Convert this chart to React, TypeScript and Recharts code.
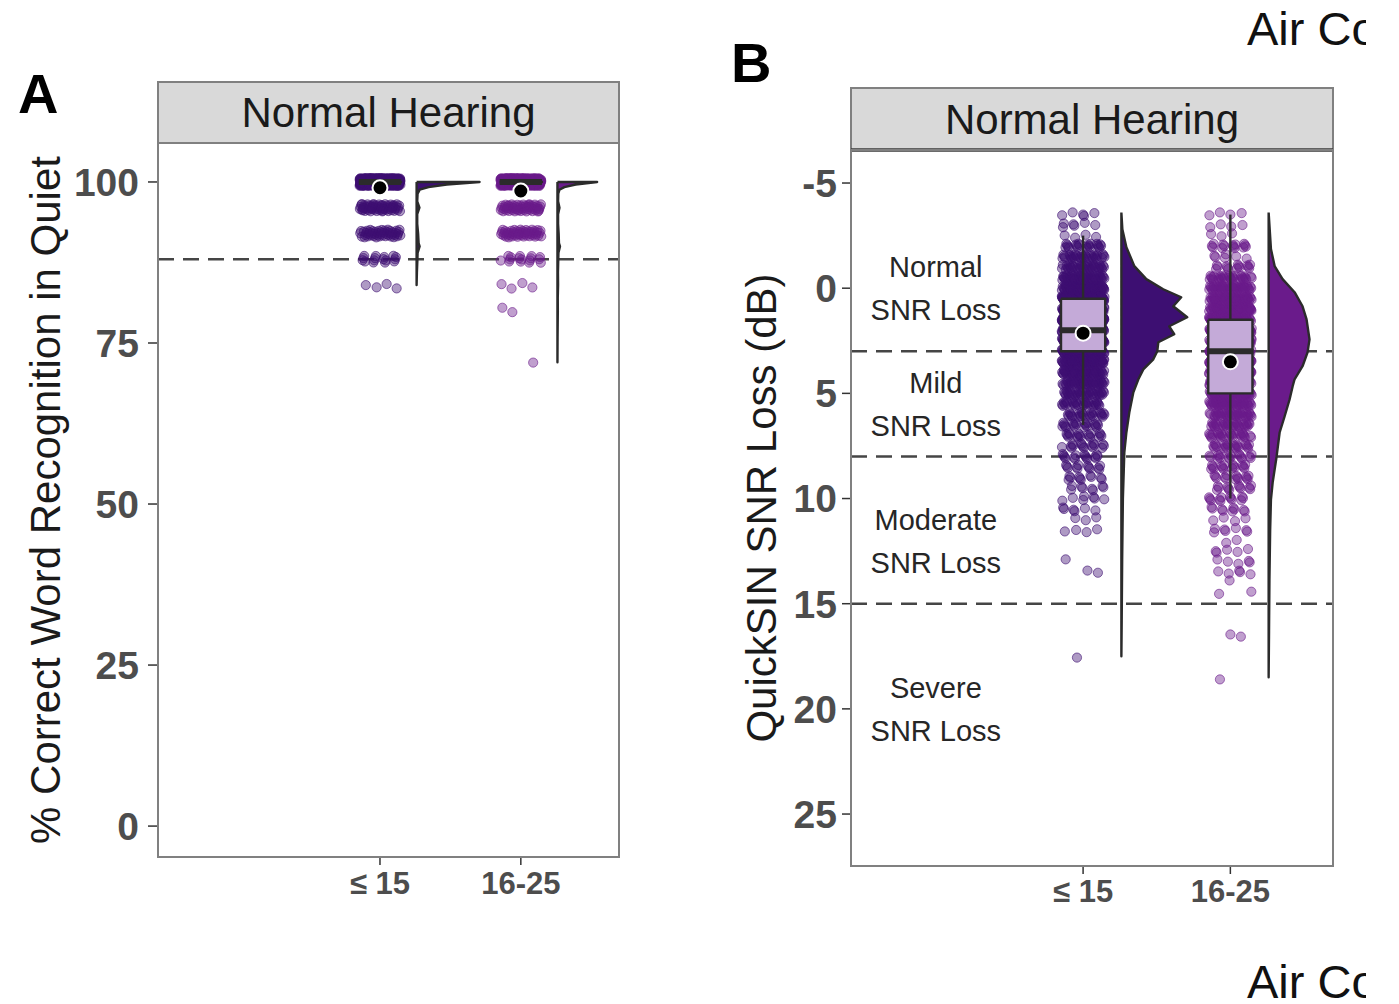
import React from "react";
import { ComposedChart, Scatter, XAxis, YAxis, ReferenceLine } from "recharts";

const FONT = '"Liberation Sans", Arial, Helvetica, sans-serif';
const INK = "#1a1a1a";
const TICK_GRAY = "#4d4d4d";
const DARK = "#2b2b2b";
const FRAME = "#808080";
const STRIP = "#d9d9d9";
const BOX_FILL = "#c4aad8";

// x = 1 and x = 2 carry the two age groups
const ageGroups = ["≤ 15", "16-25"];
const groupColors = ["#3d0f72", "#6a1b8b"];

// ---------- A: word recognition in quiet (%), scored in 4% steps ----------
const wrsLevels = [100, 96, 92, 88, 84, 80, 76, 72];
const wrsCounts15 = [420, 60, 48, 16, 4, 0, 0, 0];
const wrsCounts25 = [345, 55, 50, 16, 4, 2, 0, 1];
const wrsQ1 = [100, 100];
const wrsMedian = [100, 100];
const wrsQ3 = [100, 100];
const wrsWhiskerLo = [100, 100];
const wrsWhiskerHi = [100, 100];
const wrsMean = [99.1, 98.6];
const wrsCutoffs = [88];
const wrsTicks = [0, 25, 50, 75, 100];

// half violins: score -> relative density (100 = widest of the panel)
const wrsDensAt15 = [100, 99.6, 99.2, 98.8, 98.2, 97, 96, 95, 93.5, 92, 90.5, 90, 89, 88, 86, 84];
const wrsDens15 = [100, 48, 19, 5, 1.6, 1, 4.5, 1, 1, 2.4, 3.2, 4.8, 1.6, 1.3, 0.5, 0];
const wrsDensAt25 = [100, 99.6, 99.2, 98.8, 98.2, 97, 96, 95, 93.5, 92, 90.5, 90, 89, 88, 86, 84, 82, 80, 76, 72];
const wrsDens25 = [63, 29, 11, 3.2, 1.3, 1, 3.2, 1, 1, 1.9, 2.4, 4, 1.6, 1.3, 0.8, 1, 0.5, 0.6, 0.2, 0];

// ---------- B: QuickSIN SNR loss (dB), 0.5 dB steps ----------
const snrLevels = [-3.5, -3, -2.5, -2, -1.5, -1, -0.5, 0, 0.5, 1, 1.5, 2, 2.5, 3, 3.5, 4, 4.5, 5, 5.5, 6, 6.5, 7, 7.5, 8, 8.5, 9, 9.5, 10, 10.5, 11, 11.5, 12, 12.5, 13, 13.5, 14, 14.5, 15, 15.5, 16, 16.5, 17, 17.5, 18, 18.5];
const snrCounts15 = [5, 6, 4, 22, 34, 40, 55, 90, 160, 140, 170, 130, 115, 90, 75, 58, 48, 38, 30, 25, 20, 18, 16, 15, 12, 10, 8, 7, 6, 3, 4, 0, 0, 1, 2, 0, 0, 0, 0, 0, 0, 0, 1, 0, 0];
const snrCounts25 = [4, 4, 3, 14, 6, 14, 32, 48, 62, 72, 80, 86, 90, 90, 86, 80, 68, 58, 48, 40, 32, 27, 22, 18, 16, 14, 12, 12, 9, 4, 7, 2, 5, 5, 5, 1, 2, 0, 0, 0, 2, 0, 0, 0, 1];
const snrQ1 = [0.5, 1.5];
const snrMedian = [2, 3];
const snrQ3 = [3, 5];
const snrWhiskerLo = [-2.5, -3.5];
const snrWhiskerHi = [6.5, 10];
const snrMean = [2.14, 3.5];
const snrCutoffs = [3, 8, 15];
const snrTicks = [-5, 0, 5, 10, 15, 20, 25];

const snrDensAt15 = [-3.6, -2.8, -1.95, -1.05, -0.43, 0.05, 0.43, 0.86, 1.38, 1.81, 2.19, 2.57, 3.0, 3.38, 3.86, 4.33, 4.95, 5.9, 6.86, 7.8, 10, 12.9, 15.8, 17.5];
const snrDens15 = [0, 1.5, 7.6, 19.7, 37.9, 63.6, 90.9, 78.8, 100, 72.7, 80.3, 56.1, 54.5, 48.5, 33.3, 25.8, 18.2, 12.1, 7.6, 4.5, 2.3, 1.2, 0.5, 0];
const snrDensAt25 = [-3.6, -1.86, -1.05, -0.43, 0.19, 0.86, 1.48, 2.43, 3.05, 3.71, 4.33, 4.67, 5.29, 6.1, 6.86, 8.0, 9.24, 10.05, 11.5, 13.9, 16.3, 18.5];
const snrDens25 = [0, 3.5, 9.1, 21.2, 39.4, 51.5, 57.6, 62.1, 59.1, 51.5, 39.4, 36.4, 31.8, 24.2, 16.7, 12.1, 6.1, 3.5, 2.3, 1.2, 0.6, 0];

const snrRegions = ["Normal", "Mild", "Moderate", "Severe"];
const snrRegionAt = [0, 5.5, 12, 20];

// geometry in x-axis units
const X_DOMAIN: [number, number] = [-0.576, 2.697];
const VIOLIN_SHIFT = 0.26;
const VIOLIN_MAX = 0.447;
const BOX_HALF = 0.15;
const JITTER_X = 0.145;

type Pt = { x: number; y: number };
type Cloud = {
  pos: number; color: string; levels: number[]; counts: number[]; spreadY: number;
  q1: number; median: number; q3: number; lo: number; hi: number; mean: number;
  densAt: number[]; dens: number[];
};

// evenly spread (deterministic) jitter around each score
function jitter(levels: number[], counts: number[], pos: number, spreadY: number): Pt[] {
  const pts: Pt[] = [];
  let k = 0;
  levels.forEach((v, i) => {
    for (let n = 0; n < counts[i]; n++, k++) {
      const u = (0.5 + k * 0.7548776662) % 1;
      const w = (0.5 + k * 0.569840291) % 1;
      pts.push({ x: pos + (u - 0.5) * 2 * JITTER_X, y: v + (w - 0.5) * 2 * spreadY });
    }
  });
  return pts;
}

const noDot = () => <g />;
const dotShape = (color: string) => (p: any) => (
  <circle cx={p.cx} cy={p.cy} r={4.6} fill={color} fillOpacity={0.42} stroke={color} strokeOpacity={0.6} strokeWidth={1} />
);
const meanDot = (p: any) => <circle cx={p.cx} cy={p.cy} r={7.5} fill="#000" stroke="#fff" strokeWidth={2} />;

function path(key: string, pts: Pt[], stroke: string, width: number, fill = "none") {
  return (
    <Scatter key={key} data={pts} shape={noDot} isAnimationActive={false}
      lineType="joint" lineJointType="linear"
      line={{ stroke, strokeWidth: width, fill, strokeLinejoin: "round" }} />
  );
}

function raincloud(c: Cloud, tag: string) {
  const base = c.pos + VIOLIN_SHIFT;
  const first = c.densAt[0];
  const last = c.densAt[c.densAt.length - 1];
  const edge = c.densAt.map((v, i) => ({ x: base + (c.dens[i] / 100) * VIOLIN_MAX, y: v }));
  const violin = [{ x: base, y: first }, ...edge, { x: base, y: last }, { x: base, y: first }];
  const l = c.pos - BOX_HALF;
  const r = c.pos + BOX_HALF;
  return [
    <Scatter key={tag + "pts"} data={jitter(c.levels, c.counts, c.pos, c.spreadY)} shape={dotShape(c.color)} isAnimationActive={false} />,
    path(tag + "wlo", [{ x: c.pos, y: c.q1 }, { x: c.pos, y: c.lo }], DARK, 2.4),
    path(tag + "whi", [{ x: c.pos, y: c.q3 }, { x: c.pos, y: c.hi }], DARK, 2.4),
    path(tag + "box", [{ x: l, y: c.q1 }, { x: r, y: c.q1 }, { x: r, y: c.q3 }, { x: l, y: c.q3 }, { x: l, y: c.q1 }], DARK, 2.4, BOX_FILL),
    path(tag + "med", [{ x: l, y: c.median }, { x: r, y: c.median }], DARK, 6),
    path(tag + "vio", violin, DARK, 2.4, c.color),
    <Scatter key={tag + "mean"} data={[{ x: c.pos, y: c.mean }]} shape={meanDot} isAnimationActive={false} />,
  ];
}

const wrsClouds: Cloud[] = [0, 1].map((g) => ({
  pos: g + 1, color: groupColors[g], levels: wrsLevels, counts: g ? wrsCounts25 : wrsCounts15, spreadY: 0.6,
  q1: wrsQ1[g], median: wrsMedian[g], q3: wrsQ3[g], lo: wrsWhiskerLo[g], hi: wrsWhiskerHi[g], mean: wrsMean[g],
  densAt: g ? wrsDensAt25 : wrsDensAt15, dens: g ? wrsDens25 : wrsDens15,
}));

const snrClouds: Cloud[] = [0, 1].map((g) => ({
  pos: g + 1, color: groupColors[g], levels: snrLevels, counts: g ? snrCounts25 : snrCounts15, spreadY: 0.12,
  q1: snrQ1[g], median: snrMedian[g], q3: snrQ3[g], lo: snrWhiskerLo[g], hi: snrWhiskerHi[g], mean: snrMean[g],
  densAt: g ? snrDensAt25 : snrDensAt15, dens: g ? snrDens25 : snrDens15,
}));

const regionData = snrRegions.map((name, i) => ({ x: 0, y: snrRegionAt[i], name }));

const RegionLabel = (p: any) => (
  <text textAnchor="middle" fontSize={29} fill="#262626" fontFamily={FONT}>
    <tspan x={p.cx} y={p.cy - 11}>{p.payload.name}</tspan>
    <tspan x={p.cx} y={p.cy + 32}>SNR Loss</tspan>
  </text>
);

const yTitle = (text: string, gap: number) => (props: any) => {
  const vb = props.viewBox;
  const x = vb.x - gap;
  const y = vb.y + vb.height / 2;
  return (
    <text x={x} y={y} dy="0.35em" transform={`rotate(-90 ${x} ${y})`} textAnchor="middle"
      fontSize={42} fill={INK} fontFamily={FONT}>{text}</text>
  );
};

const tickText = (size: number) => ({ fill: TICK_GRAY, fontSize: size, fontWeight: 700, fontFamily: FONT });
const tickLine = { stroke: "#333", strokeWidth: 1.5 };
const dashed = { stroke: "#454545", strokeWidth: 2.6, strokeDasharray: "16 9" };

export default function App() {
  return (
    <div style={{ position: "absolute", left: 0, top: 0, width: 1399, height: 1004, background: "#fff", overflow: "hidden", fontFamily: FONT }}>
      <div style={{ position: "absolute", left: 0, top: 0 }}>
        <ComposedChart width={700} height={1004} margin={{ top: 143, right: 81, bottom: 87, left: 88 }}>
          <XAxis type="number" dataKey="x" domain={X_DOMAIN} ticks={[1, 2]} interval={0} allowDataOverflow
            tickFormatter={(v: number) => ageGroups[v - 1]} axisLine={false} height={60}
            tickSize={8} tickMargin={7} tickLine={tickLine} tick={tickText(31)} />
          <YAxis type="number" dataKey="y" domain={[-4.8, 106.05]} ticks={wrsTicks} interval={0} allowDataOverflow
            width={70} axisLine={false} tickSize={10} tickMargin={9} tickLine={tickLine} tick={tickText(39)}
            label={yTitle("% Correct Word Recognition in Quiet", 43)} />
          {wrsClouds.flatMap((c, i) => raincloud(c, "a" + i))}
          {wrsCutoffs.map((v) => <ReferenceLine key={v} y={v} {...dashed} />)}
        </ComposedChart>
      </div>

      <div style={{ position: "absolute", left: 700, top: 0 }}>
        <ComposedChart width={699} height={1004} margin={{ top: 150, right: 66, bottom: 78, left: 81 }}>
          <XAxis type="number" dataKey="x" domain={X_DOMAIN} ticks={[1, 2]} interval={0} allowDataOverflow
            tickFormatter={(v: number) => ageGroups[v - 1]} axisLine={false} height={60}
            tickSize={8} tickMargin={6} tickLine={tickLine} tick={tickText(31)} />
          <YAxis type="number" dataKey="y" domain={[-6.57, 27.47]} reversed ticks={snrTicks} interval={0} allowDataOverflow
            width={70} axisLine={false} tickSize={9} tickMargin={5} tickLine={tickLine} tick={tickText(39)}
            label={yTitle("QuickSIN SNR Loss (dB)", 20)} />
          {snrClouds.flatMap((c, i) => raincloud(c, "b" + i))}
          {snrCutoffs.map((v) => <ReferenceLine key={v} y={v} {...dashed} />)}
          <Scatter data={regionData} shape={RegionLabel} isAnimationActive={false} />
        </ComposedChart>
      </div>

      <svg width={1399} height={1004} style={{ position: "absolute", left: 0, top: 0, pointerEvents: "none" }} fontFamily={FONT}>
        <defs>
          {/* the next panel's title only peeks in at the right edge */}
          <clipPath id="edge-clip">
            <rect x={0} y={0} width={1366} height={1004} />
          </clipPath>
        </defs>
        <text x={18} y={113} fontSize={56} fontWeight={700} fill="#000">A</text>
        <text x={731} y={82} fontSize={56} fontWeight={700} fill="#000">B</text>
        <g clipPath="url(#edge-clip)">
          <text x={1247} y={45} fontSize={47} fill="#111">Air Conduction</text>
          <text x={1247} y={998} fontSize={47} fill="#111">Air Conduction</text>
        </g>

        <rect x={158} y={82} width={461} height={61} fill={STRIP} stroke={FRAME} strokeWidth={2} />
        <text x={388.5} y={127} textAnchor="middle" fontSize={42} fill={INK}>Normal Hearing</text>
        <rect x={158} y={143} width={461} height={714} fill="none" stroke={FRAME} strokeWidth={2} />

        <rect x={851} y={88} width={482} height={62} fill={STRIP} stroke={FRAME} strokeWidth={2} />
        <line x1={851} y1={150} x2={1333} y2={150} stroke="#3a3a3a" strokeWidth={3.5} />
        <text x={1092} y={134} textAnchor="middle" fontSize={42} fill={INK}>Normal Hearing</text>
        <rect x={851} y={150} width={482} height={716} fill="none" stroke={FRAME} strokeWidth={2} />
      </svg>
    </div>
  );
}
